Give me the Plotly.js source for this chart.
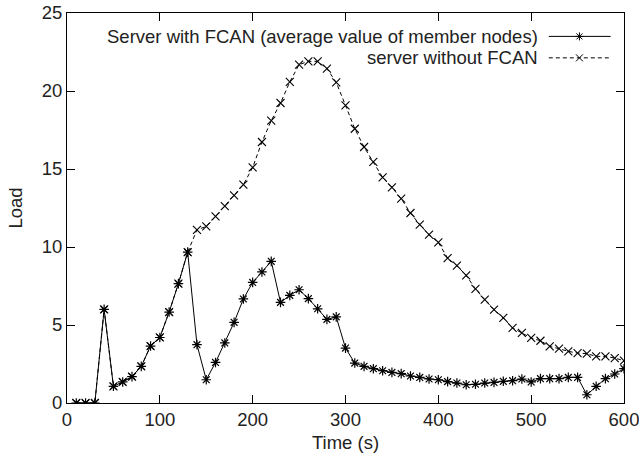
<!DOCTYPE html>
<html>
<head>
<meta charset="utf-8">
<script src="https://cdn.plot.ly/plotly-3.0.1.min.js"></script>
<style>html,body{margin:0;padding:0;background:#fff;}#chart{width:639px;height:461px;}</style>
</head>
<body>
<div id="chart"></div>
<script>
const time = [10,20,30,40,50,60,70,80,90,100,110,120,130,140,150,160,170,180,190,200,210,220,230,240,250,260,270,280,290,300,310,320,330,340,350,360,370,380,390,400,410,420,430,440,450,460,470,480,490,500,510,520,530,540,550,560,570,580,590,600];
const loadWithFCAN = [0,0,0,6.0,1.07,1.35,1.69,2.35,3.65,4.2,5.83,7.65,9.67,3.74,1.49,2.6,3.85,5.17,6.67,7.73,8.4,9.08,6.45,6.9,7.26,6.69,6.04,5.36,5.52,3.52,2.56,2.35,2.2,2.07,1.96,1.88,1.73,1.64,1.54,1.49,1.37,1.28,1.17,1.2,1.28,1.32,1.39,1.43,1.54,1.35,1.56,1.56,1.56,1.64,1.64,0.53,1.07,1.56,1.86,2.2];
const loadWithoutFCAN = [0,0,0,6.0,1.07,1.35,1.69,2.35,3.65,4.2,5.83,7.65,9.67,11.1,11.32,11.96,12.62,13.31,14.0,15.1,16.73,18.1,19.23,20.58,21.69,21.9,21.9,21.44,20.55,19.08,17.58,16.41,15.45,14.46,13.82,13.1,12.18,11.43,10.79,10.29,9.29,8.8,8.18,7.31,6.62,5.98,5.45,4.81,4.49,4.17,3.99,3.63,3.48,3.31,3.2,3.16,2.99,2.99,2.88,2.71];
const seriesNames = ["Server with FCAN (average value of member nodes)", "server without FCAN"];
const xTicks = [0,100,200,300,400,500,600];
const yTicks = [0,5,10,15,20,25];

const FONT = "Liberation Sans, Arial, Helvetica, sans-serif";
const FS = 18.5;
const traces = [
  {x: time, y: loadWithoutFCAN, type: 'scatter', mode: 'lines+markers', name: seriesNames[1],
   line: {color: '#000', width: 1, dash: '4px,3px'},
   marker: {symbol: 'x-thin-open', size: 8, color: '#000', line: {color: '#000', width: 1.1}}},
  {x: time, y: loadWithFCAN, type: 'scatter', mode: 'lines+markers', name: seriesNames[0],
   line: {color: '#000', width: 1},
   marker: {symbol: 'asterisk-open', size: 8, color: '#000', line: {color: '#000', width: 1.2}}}
];

// custom gnuplot-style key: text on the left, sample on the right
const keyTextX = 0.849, keyLine0 = 0.865, keyLine1 = 0.976, keyMark = 0.92;
const keyRows = [0.94, 0.885];
const shapes = [];
const annotations = [];
keyRows.forEach((ky, i) => {
  annotations.push({xref: 'paper', yref: 'paper', x: keyTextX, y: ky, xanchor: 'right', yanchor: 'middle',
    text: seriesNames[i], showarrow: false, font: {family: FONT, size: FS, color: '#222'}});
  shapes.push({type: 'line', xref: 'paper', yref: 'paper', x0: keyLine0, x1: keyLine1, y0: ky, y1: ky,
    line: {color: '#000', width: 1, dash: i === 0 ? 'solid' : '4px,3px'}});
  const arms = i === 0 ? [[-3,-3,3,3],[-3,3,3,-3],[0,-4,0,4],[-4,0,4,0]] : [[-3.5,-3.5,3.5,3.5],[-3.5,3.5,3.5,-3.5]];
  arms.forEach(a => {
    shapes.push({type: 'line', xref: 'paper', yref: 'paper', xsizemode: 'pixel', ysizemode: 'pixel',
      xanchor: keyMark, yanchor: ky, x0: a[0], y0: a[1], x1: a[2], y1: a[3], line: {color: '#000', width: 1}});
  });
});

const layout = {
  width: 639, height: 461,
  margin: {l: 67, r: 14.5, t: 13.3, b: 57.7},
  paper_bgcolor: '#fff', plot_bgcolor: '#fff',
  showlegend: false,
  font: {family: FONT, size: FS, color: '#222'},
  xaxis: {range: [0, 600], tickvals: xTicks, ticks: 'inside', ticklen: 8, tickcolor: '#000',
    showline: true, linecolor: '#000', linewidth: 1, mirror: 'ticks', showgrid: false, zeroline: false,
    ticklabeloverflow: 'allow', automargin: false,
    tickfont: {family: FONT, size: FS, color: '#222'},
    title: {text: 'Time (s)', font: {family: FONT, size: FS, color: '#222'}, standoff: 6}},
  yaxis: {range: [0, 25], tickvals: yTicks, ticks: 'inside', ticklen: 8, tickcolor: '#000',
    showline: true, linecolor: '#000', linewidth: 1, mirror: 'ticks', showgrid: false, zeroline: false,
    ticklabeloverflow: 'allow', automargin: false,
    tickfont: {family: FONT, size: FS, color: '#222'},
    title: {text: 'Load', font: {family: FONT, size: FS, color: '#222'}, standoff: 14}},
  shapes: shapes,
  annotations: annotations
};
Plotly.newPlot('chart', traces, layout, {displayModeBar: false, staticPlot: true});
</script>
</body>
</html>
